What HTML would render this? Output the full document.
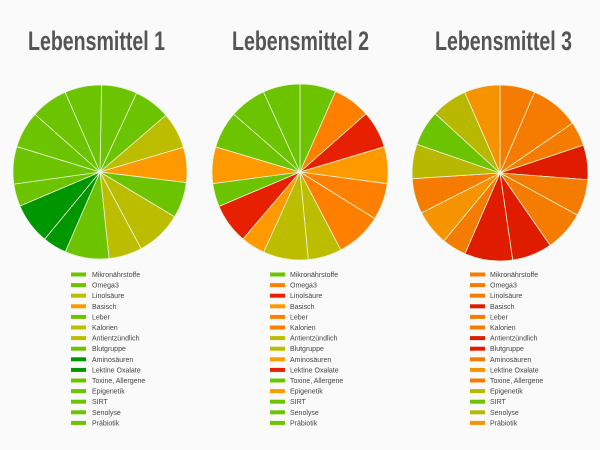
<!DOCTYPE html>
<html><head><meta charset="utf-8"><style>
html,body{margin:0;padding:0;background:#fafafa;}
svg{display:block;}
text{font-family:"Liberation Sans",sans-serif;}
.t{font-weight:bold;font-size:27px;fill:#555;}
.l{font-size:7px;fill:#444;}
</style></head><body>
<svg id="s" width="600" height="450" viewBox="0 0 600 450">
<rect width="600" height="450" fill="#fafafa"/>
<text class="t" x="28" y="50" textLength="137" lengthAdjust="spacingAndGlyphs">Lebensmittel 1</text>
<text class="t" x="232" y="50" textLength="137" lengthAdjust="spacingAndGlyphs">Lebensmittel 2</text>
<text class="t" x="435" y="50" textLength="137" lengthAdjust="spacingAndGlyphs">Lebensmittel 3</text>
<g id="pies"></g>
<g id="leg"></g>
<g class="l">
<text x="92" y="277">Mikronährstoffe</text><text x="92" y="287.6">Omega3</text><text x="92" y="298.2">Linolsäure</text><text x="92" y="308.8">Basisch</text><text x="92" y="319.4">Leber</text><text x="92" y="330">Kalorien</text><text x="92" y="340.6">Antientzündlich</text><text x="92" y="351.2">Blutgruppe</text><text x="92" y="361.8">Aminosäuren</text><text x="92" y="372.4">Lektine Oxalate</text><text x="92" y="383">Toxine, Allergene</text><text x="92" y="393.6">Epigenetik</text><text x="92" y="404.2">SIRT</text><text x="92" y="414.8">Senolyse</text><text x="92" y="425.4">Präbiotik</text>
<text x="290" y="277">Mikronährstoffe</text><text x="290" y="287.6">Omega3</text><text x="290" y="298.2">Linolsäure</text><text x="290" y="308.8">Basisch</text><text x="290" y="319.4">Leber</text><text x="290" y="330">Kalorien</text><text x="290" y="340.6">Antientzündlich</text><text x="290" y="351.2">Blutgruppe</text><text x="290" y="361.8">Aminosäuren</text><text x="290" y="372.4">Lektine Oxalate</text><text x="290" y="383">Toxine, Allergene</text><text x="290" y="393.6">Epigenetik</text><text x="290" y="404.2">SIRT</text><text x="290" y="414.8">Senolyse</text><text x="290" y="425.4">Präbiotik</text>
<text x="490" y="277">Mikronährstoffe</text><text x="490" y="287.6">Omega3</text><text x="490" y="298.2">Linolsäure</text><text x="490" y="308.8">Basisch</text><text x="490" y="319.4">Leber</text><text x="490" y="330">Kalorien</text><text x="490" y="340.6">Antientzündlich</text><text x="490" y="351.2">Blutgruppe</text><text x="490" y="361.8">Aminosäuren</text><text x="490" y="372.4">Lektine Oxalate</text><text x="490" y="383">Toxine, Allergene</text><text x="490" y="393.6">Epigenetik</text><text x="490" y="404.2">SIRT</text><text x="490" y="414.8">Senolyse</text><text x="490" y="425.4">Präbiotik</text>
</g>
</svg>
<script>
var G='#6cc400',O='#bdbd00',Y='#ff9900',D='#009600',R='#e62000',A='#ff7f00',B='#f57c00',C='#e01c00',E='#f59400';
var pies=[
{cx:100,cy:172,r:87,b:[1,24.9,49.3,73.5,97,121,151.8,174,203.5,219.5,247,262,287,311.6,336.4],c:[G,G,O,Y,G,O,O,G,D,D,G,G,G,G,G],lx:71},
{cx:300,cy:172,r:88,b:[0,23.9,48.6,73.3,97.7,121.9,152.4,174.6,204.4,220.4,247,262.4,286.6,311.1,335.5],c:[G,A,R,Y,A,A,O,O,Y,R,G,Y,G,G,G],lx:270},
{cx:500,cy:173,r:88,b:[0,23.2,55.5,71.5,94.4,118.5,145.3,171.7,203.5,219.6,243.1,266.3,289.1,312.5,336.4],c:[B,B,B,C,B,B,C,C,B,E,B,'#b8b800',G,'#b8b800',E],lx:470}];
var ns='http://www.w3.org/2000/svg',pg=document.getElementById('pies'),lg=document.getElementById('leg');
function pt(p,a){a=a*Math.PI/180;return (p.cx+p.r*Math.sin(a)).toFixed(2)+','+(p.cy-p.r*Math.cos(a)).toFixed(2);}
pies.forEach(function(p){
 for(var i=0;i<15;i++){var a1=p.b[i],a2=i<14?p.b[i+1]:p.b[0]+360;
  var e=document.createElementNS(ns,'path');
  e.setAttribute('d','M'+p.cx+','+p.cy+'L'+pt(p,a1)+'A'+p.r+','+p.r+' 0 '+(a2-a1>180?1:0)+' 1 '+pt(p,a2)+'Z');
  e.setAttribute('fill',p.c[i]);e.setAttribute('stroke','#eaf5d8');e.setAttribute('stroke-width','0.8');pg.appendChild(e);
  var q=document.createElementNS(ns,'rect');q.setAttribute('x',p.lx);q.setAttribute('y',272.5+i*10.6);q.setAttribute('width',15);q.setAttribute('height',4);q.setAttribute('fill',p.c[i]);lg.appendChild(q);}
});
</script>
</body></html>
